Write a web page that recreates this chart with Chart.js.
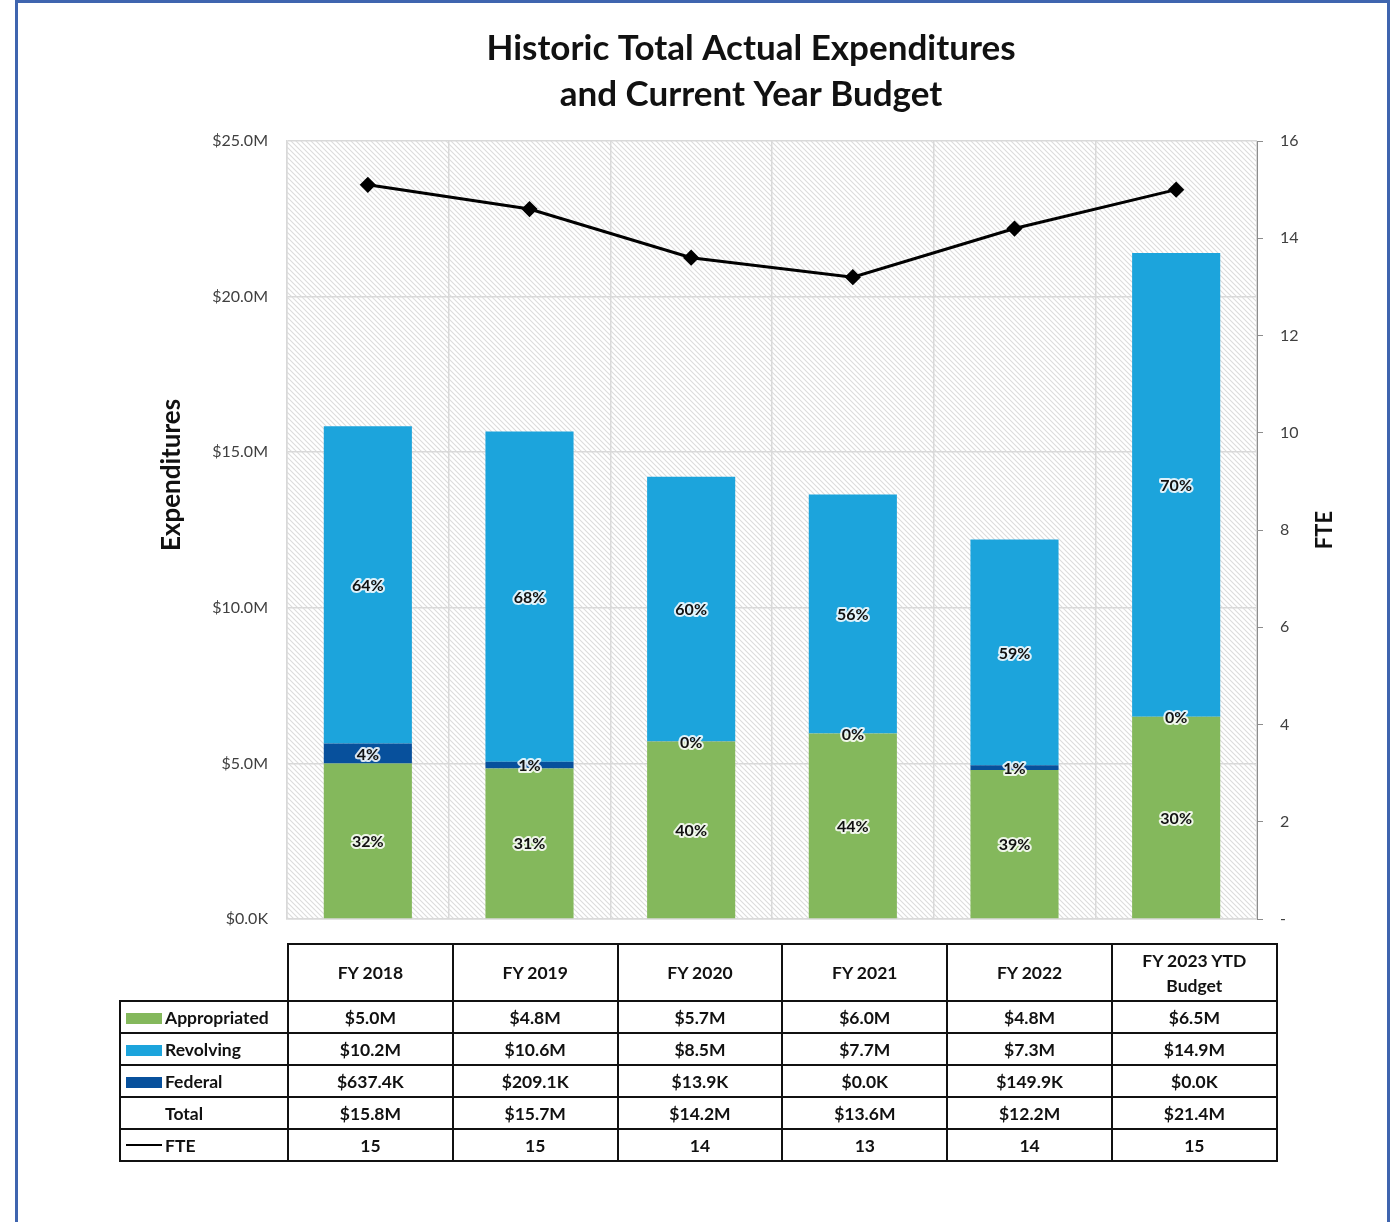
<!DOCTYPE html>
<html>
<head>
<meta charset="utf-8">
<script src="https://cdn.jsdelivr.net/npm/chart.js@4.4.1/dist/chart.umd.min.js"></script>
<style>
  html, body { margin: 0; padding: 0; background: #fff; }
  #wrap { position: relative; width: 1390px; height: 1222px; overflow: hidden; font-family: Lato, "Open Sans", sans-serif; }
  #frame { position: absolute; left: 15px; top: 0; width: 1369px; height: 1260px; border: 3px solid #3f65af; }
  #chart { position: absolute; left: 0; top: 0; }
  #tbl { position: absolute; left: 119px; top: 943px; border-collapse: collapse; table-layout: fixed; color: #111; font-weight: 700; font-size: 17.5px; }
  #tbl td { border: 2px solid #111; text-align: center; height: 30px; padding: 0; }
  #tbl tr.head td { height: 55px; line-height: 25px; }
  #tbl td.blank { border: none; border-bottom: 2px solid #111; }
  #tbl td.lg { text-align: left; white-space: nowrap; }
  .sw { display: inline-block; width: 36px; height: 11px; margin: 0 3px 0 5px; vertical-align: 0; }
  .ln { display: inline-block; width: 36px; height: 2px; margin: 0 3px 4px 5px; background: #000; vertical-align: middle; }
  .nosw { display: inline-block; width: 44px; }
</style>
</head>
<body>
<div id="wrap">
  <div id="frame"></div>
  <canvas id="chart" width="1390" height="1222"></canvas>
  <table id="tbl"></table>
</div>
<script>
const categories = ["FY 2018", "FY 2019", "FY 2020", "FY 2021", "FY 2022", ["FY 2023 YTD", "Budget"]];
const appropriated = [5.0, 4.84, 5.7, 5.96, 4.79, 6.5];
const revolving = [10.2, 10.62, 8.5, 7.68, 7.254, 14.9];
const federal = [0.6374, 0.2091, 0.0139, 0, 0.1499, 0];
const fte = [15.1, 14.6, 13.6, 13.2, 14.2, 15.0];
const titleLines = ["Historic Total Actual Expenditures", "and Current Year Budget"];

const colors = { appropriated: "#84b85c", revolving: "#1ca4dc", federal: "#07509c" };

const totals = appropriated.map((v, i) => v + revolving[i] + federal[i]);
const money = (v) => (v >= 1 ? "$" + v.toFixed(1) + "M" : "$" + (v * 1000).toFixed(1) + "K");

// hatched plot background
let hatch = null;
function getHatch(ctx) {
  if (hatch) return hatch;
  const t = document.createElement("canvas");
  t.width = 5; t.height = 5;
  const c = t.getContext("2d");
  c.strokeStyle = "#dcdcdc";
  c.lineWidth = 1.1;
  c.beginPath();
  c.moveTo(-1, -1); c.lineTo(6, 6);
  c.moveTo(-1, 4); c.lineTo(1, 6);
  c.moveTo(4, -1); c.lineTo(6, 1);
  c.stroke();
  hatch = ctx.createPattern(t, "repeat");
  return hatch;
}

const background = {
  id: "background",
  beforeDraw(chart) {
    const { ctx, chartArea: a } = chart;
    ctx.save();
    ctx.fillStyle = getHatch(ctx);
    ctx.fillRect(a.left, a.top, a.right - a.left, a.bottom - a.top);
    ctx.restore();
  }
};

const percentLabels = {
  id: "percentLabels",
  afterDatasetsDraw(chart) {
    const { ctx } = chart;
    ctx.save();
    ctx.font = "bold 16px Lato, sans-serif";
    ctx.textAlign = "center";
    ctx.textBaseline = "middle";
    ctx.lineJoin = "round";
    chart.data.datasets.forEach((ds, di) => {
      if (ds.type !== "bar") return;
      chart.getDatasetMeta(di).data.forEach((el, i) => {
        const { x, y, base } = el.getProps(["x", "y", "base"], true);
        const txt = Math.round((ds.data[i] / totals[i]) * 100) + "%";
        const cy = (y + base) / 2 + 1;
        ctx.strokeStyle = "rgba(255,255,255,0.85)";
        ctx.lineWidth = 4;
        ctx.strokeText(txt, x, cy);
        ctx.fillStyle = "#111";
        ctx.fillText(txt, x, cy);
      });
    });
    ctx.restore();
  }
};

const titles = {
  id: "titles",
  afterDraw(chart) {
    const { ctx } = chart;
    ctx.save();
    ctx.fillStyle = "#111";
    ctx.textAlign = "center";
    ctx.textBaseline = "middle";
    ctx.font = "bold 35px Lato, sans-serif";
    ctx.fillText(titleLines[0], 751, 49);
    ctx.fillText(titleLines[1], 751, 95);
    ctx.font = "bold 26px Lato, sans-serif";
    ctx.translate(172, 475);
    ctx.rotate(-Math.PI / 2);
    ctx.fillText("Expenditures", 0, 0);
    ctx.restore();
    ctx.save();
    ctx.fillStyle = "#111";
    ctx.textAlign = "center";
    ctx.textBaseline = "middle";
    ctx.font = "bold 22px Lato, sans-serif";
    ctx.translate(1325, 530);
    ctx.rotate(-Math.PI / 2);
    ctx.fillText("FTE", 0, 0);
    ctx.restore();
  }
};

new Chart(document.getElementById("chart"), {
  data: {
    labels: categories,
    datasets: [
      { type: "line", label: "FTE", data: fte, yAxisID: "y1", order: 0,
        borderColor: "#000", borderWidth: 3, tension: 0,
        pointStyle: "rectRot", pointRadius: 6, pointBackgroundColor: "#000", pointBorderColor: "#000" },
      { type: "bar", label: "Appropriated", data: appropriated, backgroundColor: colors.appropriated, stack: "s", order: 1 },
      { type: "bar", label: "Federal", data: federal, backgroundColor: colors.federal, stack: "s", order: 1 },
      { type: "bar", label: "Revolving", data: revolving, backgroundColor: colors.revolving, stack: "s", order: 1 }
    ]
  },
  options: {
    responsive: false,
    animation: false,
    devicePixelRatio: 1,
    layout: { padding: { top: 141, bottom: 303, left: 0, right: 0 } },
    datasets: { bar: { barPercentage: 0.545, categoryPercentage: 1 } },
    plugins: { legend: { display: false }, tooltip: { enabled: false } },
    scales: {
      x: {
        stacked: true,
        ticks: { display: false },
        grid: { offset: true, color: "#d9d9d9", lineWidth: 1.5, drawTicks: false },
        border: { color: "#d9d9d9", width: 1.5 },
        afterFit: (s) => { s.height = 0; }
      },
      y: {
        stacked: true,
        min: 0, max: 25,
        ticks: { stepSize: 5, padding: 19, color: "#404040", font: { family: "Lato", size: 16 },
          callback: (v) => (v === 0 ? "$0.0K" : "$" + v.toFixed(1) + "M") },
        grid: { color: "#d9d9d9", lineWidth: 1.5, drawTicks: false },
        border: { color: "#d9d9d9", width: 1.5 },
        afterFit: (s) => { s.width = 287; }
      },
      y1: {
        position: "right",
        min: 0, max: 16,
        ticks: { stepSize: 2, padding: 17, color: "#404040", font: { family: "Lato", size: 16 },
          callback: (v) => (v === 0 ? "-" : v) },
        grid: { drawOnChartArea: false, drawTicks: true, tickLength: 6, color: "#8c8c8c" },
        border: { color: "#8c8c8c", width: 1 },
        afterFit: (s) => { s.width = 133; }
      }
    }
  },
  plugins: [background, percentLabels, titles]
});

// data table under the plot
const tbl = document.getElementById("tbl");
let html = '<colgroup><col style="width:168px">' + categories.map(() => '<col style="width:164.8px">').join("") + "</colgroup>";
html += '<tr class="head"><td class="blank"></td>' + categories.map((c) => "<td>" + [].concat(c).join("<br>") + "</td>").join("") + "</tr>";
const rows = [
  ['<span class="sw" style="background:' + colors.appropriated + '"></span>Appropriated', appropriated.map(money)],
  ['<span class="sw" style="background:' + colors.revolving + '"></span>Revolving', revolving.map(money)],
  ['<span class="sw" style="background:' + colors.federal + '"></span>Federal', federal.map(money)],
  ['<span class="nosw"></span>Total', totals.map(money)],
  ['<span class="ln"></span>FTE', fte.map((v) => String(Math.round(v)))]
];
rows.forEach(([lbl, vals]) => {
  html += '<tr><td class="lg">' + lbl + "</td>" + vals.map((v) => "<td>" + v + "</td>").join("") + "</tr>";
});
tbl.innerHTML = html;
</script>
</body>
</html>
